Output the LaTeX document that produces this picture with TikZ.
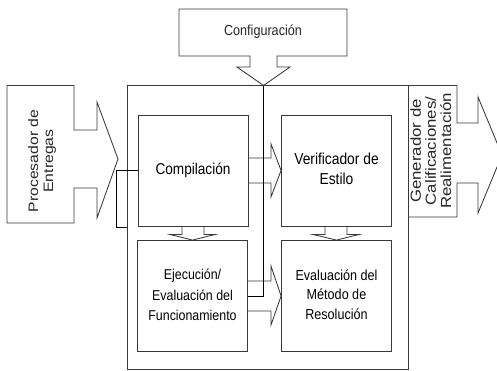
\documentclass[tikz,border=0pt]{standalone}
\usepackage{fontspec}
\setmainfont{Liberation Sans}
\newcommand\hT[3]{\scalebox{1}[1.15]{\fontsize{#1}{#2}\selectfont\begin{tabular}{@{}c@{}}#3\end{tabular}}}
\newcommand\vT[3]{\scalebox{1.15}[1]{\fontsize{#1}{#2}\selectfont\begin{tabular}{@{}c@{}}#3\end{tabular}}}
\definecolor{edge}{rgb}{0.22,0.22,0.22}
\tikzset{
  shapeline/.style={draw=edge, line width=0.85pt, line join=miter},
  box/.style={shapeline, rectangle, inner sep=0pt, minimum width=110pt, minimum height=111pt},
  wire/.style={draw=black, line width=0.9pt},
  lbl/.style={inner sep=0pt, text=black!85}
}
\begin{document}
\begin{tikzpicture}[x=1pt,y=-1pt]
\useasboundingbox (0,0) rectangle (497,370);
\clip (0,0) rectangle (497,370);

% big frame
\node[shapeline, rectangle, inner sep=0pt, minimum width=281pt, minimum height=283.5pt] (frame) at (267.75,227.25) {};

% Configuracion block arrow
\draw[shapeline] (179,9) -- (347,9) -- (347,56) -- (277,56) -- (277,67) -- (290,67)
  -- (263.5,85.5) coordinate (cfgtip) -- (237,67) -- (250,67) -- (250,56) -- (179,56) -- cycle;
\node[lbl] (cfg) at (263,32.5) {\hT{12.6}{15}{Configuración}};

% Procesador block arrow
\draw[shapeline] (7,85.5) -- (74,85.5) -- (74,130) -- (97,130) -- (97,102) -- (118,159)
  -- (97,218) -- (97,188) -- (74,188) -- (74,223) -- (7,223) -- cycle;
\node[lbl, rotate=90] (proc) at (42.5,161) {\vT{13.7}{15}{Procesador de\\Entregas}};

% Generador block arrow
\draw[shapeline] (409,85.5) -- (457,85.5) -- (457,123) -- (478,123) -- (478,97) -- (502,155)
  -- (478,213) -- (478,183) -- (457,183) -- (457,217) -- (409,217);
\node[lbl, rotate=90] (gen) at (433,151) {\vT{14.6}{15}{Generador de\\Calificaciones/\\Realimentación}};

% inner boxes
\node[box] (comp) at (193,170.5) {\hT{13.6}{17.5}{Compilación}};
\node[box] (verif) at (336.5,170.5) {\hT{13.8}{17.5}{Verificador de\\Estilo}};
\node[box] (ejec) at (192.5,296) {\hT{12.4}{17.8}{Ejecución/\\Evaluación del\\Funcionamiento}};
\node[box] (evalm) at (336.5,296) {\hT{12.6}{17}{Evaluación del\\Método de\\Resolución}};

% block arrows between boxes
\draw[shapeline] (comp.east |- 0,158) -- (271,158) -- (271,144) -- (verif.west)
  -- (271,197) -- (271,183) -- (comp.east |- 0,183);
\draw[shapeline] (ejec.east |- 0,281) -- (271,281) -- (271,266) -- (evalm.west)
  -- (271,325) -- (271,311) -- (ejec.east |- 0,311);
\draw[shapeline] (182,226) -- (182,234.5) -- (170,234.5) -- (ejec.north) -- (215,234.5) -- (204,234.5) -- (204,226);
\draw[shapeline] (325,226) -- (325,234.5) -- (313,234.5) -- (evalm.north) -- (359,234.5) -- (347,234.5) -- (347,226);

% configuration wire
\draw[wire] (cfgtip) -- (cfgtip |- ejec.east) -- (ejec.east);

% entry bracket
\coordinate (brk) at (116,227);
\draw[wire] (comp.west) -- (brk |- comp.west) -- (brk) -- (frame.west |- brk);
\end{tikzpicture}
\end{document}
